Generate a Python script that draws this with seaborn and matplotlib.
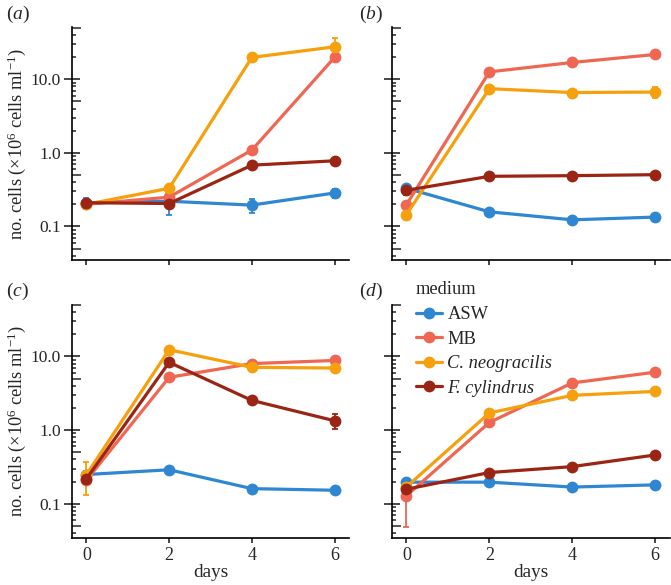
import numpy as np
import pandas as pd
import seaborn as sns
import matplotlib.pyplot as plt
from matplotlib.ticker import LogLocator, NullLocator, FixedLocator, NullFormatter, FixedFormatter
from matplotlib.lines import Line2D

# data
days = [0, 2, 4, 6]
media = ["ASW", "MB", "C. neogracilis", "F. cylindrus"]
colors = ["#2f86d1", "#ef6753", "#f5a00c", "#9b2515"]

# panel a
a_asw = [0.21, 0.22, 0.195, 0.285]
a_mb = [0.20, 0.25, 1.09, 19.8]
a_cneo = [0.20, 0.33, 19.8, 27.6]
a_fcyl = [0.21, 0.205, 0.68, 0.78]
a_err = {"ASW": [0.035, 0.075, 0.043, 0.04], "MB": [0, 0, 0, 0],
         "C. neogracilis": [0, 0, 0, 9.0], "F. cylindrus": [0, 0, 0, 0]}
# panel b
b_asw = [0.33, 0.158, 0.123, 0.134]
b_mb = [0.198, 12.6, 16.9, 21.7]
b_cneo = [0.145, 7.45, 6.6, 6.7]
b_fcyl = [0.31, 0.48, 0.49, 0.505]
b_err = {"ASW": [0.04, 0, 0, 0], "MB": [0, 0, 0, 0],
         "C. neogracilis": [0, 0.8, 0, 1.2], "F. cylindrus": [0.04, 0, 0, 0]}
# panel c
c_asw = [0.25, 0.29, 0.161, 0.153]
c_mb = [0.21, 5.2, 7.98, 8.8]
c_cneo = [0.25, 12.3, 7.1, 6.95]
c_fcyl = [0.22, 8.3, 2.53, 1.34]
c_err = {"ASW": [0.03, 0, 0, 0], "MB": [0, 0, 0.8, 0],
         "C. neogracilis": [0.12, 0, 0.6, 0], "F. cylindrus": [0, 0, 0, 0.32]}
# panel d
d_asw = [0.197, 0.197, 0.169, 0.181]
d_mb = [0.129, 1.27, 4.36, 6.1]
d_cneo = [0.17, 1.71, 2.96, 3.35]
d_fcyl = [0.158, 0.266, 0.32, 0.46]
d_err = {"ASW": [0.02, 0, 0, 0], "MB": [0.08, 0, 0, 0],
         "C. neogracilis": [0, 0, 0, 0], "F. cylindrus": [0, 0, 0, 0]}

panels = {
    "a": ([a_asw, a_mb, a_cneo, a_fcyl], a_err),
    "b": ([b_asw, b_mb, b_cneo, b_fcyl], b_err),
    "c": ([c_asw, c_mb, c_cneo, c_fcyl], c_err),
    "d": ([d_asw, d_mb, d_cneo, d_fcyl], d_err),
}

rows = []
for p, (vals, errs) in panels.items():
    for m, v in zip(media, vals):
        for dd, y, e in zip(days, v, errs[m]):
            rows.append({"panel": p, "medium": m, "days": dd, "cells": y, "err": e})
df = pd.DataFrame(rows)

sns.set_style("white")
plt.rcParams["font.family"] = ["Liberation Serif", "DejaVu Serif"]
plt.rcParams["mathtext.fontset"] = "custom"
plt.rcParams["mathtext.rm"] = "Liberation Serif"
plt.rcParams["mathtext.it"] = "Liberation Serif:italic"
plt.rcParams["axes.linewidth"] = 1.2

fig = plt.figure(figsize=(6.71, 5.85), dpi=100)
W, H = 671, 585
rects = {"a": (72, 27.5, 349, 260), "b": (392, 27.5, 669.5, 260),
         "c": (72, 304.5, 349, 537.5), "d": (392, 304.5, 669.5, 537.5)}
label_pos = {"a": (6, 14), "b": (359, 14), "c": (6, 291), "d": (359, 291)}
pal = dict(zip(media, colors))

for p, (x0, y0, x1, y1) in rects.items():
    ax = fig.add_axes([x0 / W, 1 - y1 / H, (x1 - x0) / W, (y1 - y0) / H])
    sub = df[df.panel == p]
    sns.lineplot(data=sub, x="days", y="cells", hue="medium", hue_order=media,
                 palette=pal, marker="o", markersize=8.5, markeredgewidth=0,
                 linewidth=2.3, ax=ax, legend=(p == "d"))
    for m in media:
        s = sub[sub.medium == m]
        s = s[s.err > 0]
        if len(s):
            ax.errorbar(s.days, s.cells, yerr=s.err, fmt="none", ecolor=pal[m],
                        elinewidth=1.3, capsize=2.5, capthick=1.3, zorder=1)
    ax.set_yscale("log")
    ax.set_ylim(0.035, 50.5)
    ax.set_xlim(-0.35, 6.35)
    ax.set_xticks(days)
    sns.despine(ax=ax)
    for sp in ["left", "bottom"]:
        ax.spines[sp].set_color("black")

    ax.yaxis.set_major_locator(FixedLocator([0.1, 1, 10]))
    ax.yaxis.set_minor_locator(LogLocator(base=10, subs=(2, 3, 4, 6, 7, 8, 9)))
    ax.yaxis.set_minor_formatter(NullFormatter())
    ax.tick_params(axis="y", which="major", direction="inout", length=12, width=1.2,
                   left=True, labelsize=12.5, pad=2)
    ax.tick_params(axis="y", which="minor", direction="in", length=3.2, width=1.1, left=True)
    ax.tick_params(axis="x", which="major", direction="out", length=3.5, width=1.2,
                   bottom=True, labelsize=13, pad=3)
    # mid-length log ticks at 5 x 10^n
    sec = ax.secondary_yaxis("left")
    sec.set_yticks([0.05, 0.5, 5, 50])
    sec.yaxis.set_minor_locator(NullLocator())
    sec.tick_params(axis="y", direction="in", length=6.5, width=1.1, labelleft=False)
    sec.spines["left"].set_visible(False)

    if p in ("a", "c"):
        ax.yaxis.set_major_formatter(FixedFormatter(["0.1", "1.0", "10.0"]))
        ax.set_ylabel(r"no. cells ($\times$10$^{6}$ cells ml$^{-1}$)", fontsize=13.2)
        ax.yaxis.set_label_coords(-0.16, 0.5)
    else:
        ax.set_yticklabels([])
        ax.set_ylabel("")
    if p in ("c", "d"):
        ax.set_xlabel("days", fontsize=13.8, labelpad=0)
    else:
        ax.set_xticklabels([])
        ax.set_xlabel("")

    lx, ly = label_pos[p]
    fig.text(lx / W, 1 - ly / H, "($\\mathit{" + p + "}$)", fontsize=14,
             ha="left", va="center")

    if p == "d":
        ax.get_legend().remove()
        handles = [Line2D([], [], color=c, marker="o", markersize=8.5, markeredgewidth=0,
                          linewidth=2.3) for c in colors]
        leg = fig.legend(handles, media, title="medium", loc="upper left",
                         bbox_to_anchor=(416 / W, 1 - 281 / H), frameon=False,
                         fontsize=13.3, title_fontsize=13.3, handlelength=1.4,
                         handletextpad=0.3, labelspacing=0.4, borderpad=0,
                         borderaxespad=0, alignment="left")
        leg._legend_box.sep = 6
        for t in leg.get_texts()[2:]:
            t.set_fontstyle("italic")

fig.savefig("out.png", dpi=100)
